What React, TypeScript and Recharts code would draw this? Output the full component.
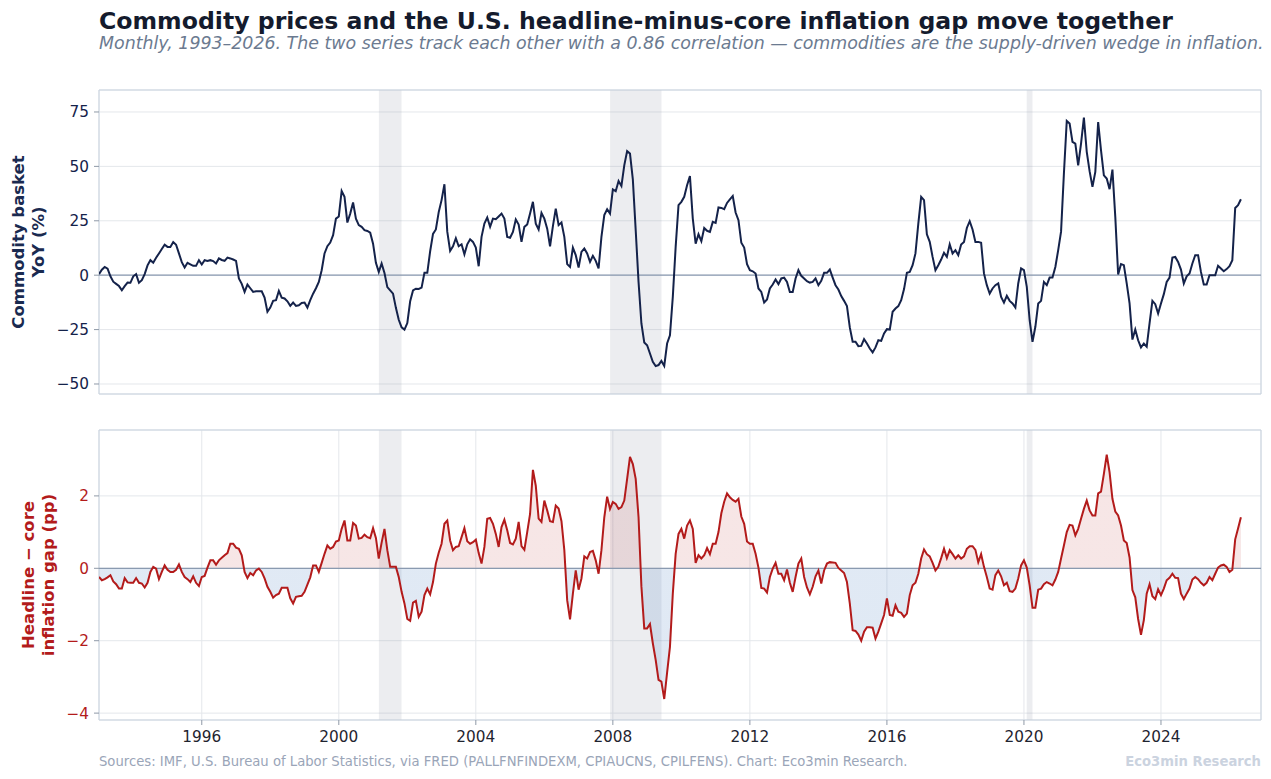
import {
  ComposedChart,
  Line,
  Area,
  XAxis,
  YAxis,
  CartesianGrid,
  ReferenceArea,
  ReferenceLine,
} from 'recharts'

// monthly series, first value = Jan 1993
const START_YEAR = 1993

// commodity basket, YoY % (one row per year)
const commodityYoY = [
  0.5, 2.5, 3.8, 3, -0.5, -3, -4, -5, -6.9, -5, -3.4, -3.5, // 1993
  -0.5, 0.5, -3.5, -2.3, 0.5, 4.5, 6.9, 5.7, 8, 10, 12, 14, // 1994
  13, 13, 15.2, 14, 10, 6, 3.5, 5.7, 5, 4.3, 4.3, 6.9, // 1995
  4.9, 6.9, 6.5, 6.9, 6.5, 5.4, 7.7, 7, 6.6, 8.1, 7.7, 7.2, // 1996
  6.6, -1.5, -4, -7.7, -4.3, -6, -7.7, -7.4, -7.4, -7.4, -10.3, -16.8, // 1997
  -14.9, -11.8, -11.5, -7.2, -10.3, -10.7, -12, -14.1, -12.6, -14.1, -13.8, -12.8, // 1998
  -12.6, -14.9, -11.5, -8.5, -6, -3.1, 2.3, 10, 13.3, 15, 18.4, 26, // 1999
  27, 38.7, 36, 24.2, 28.3, 33.4, 26, 23, 22.2, 20.7, 20.3, 19.5, // 2000
  14.5, 5.7, 1.5, 5.4, 1, -5.5, -7, -8.5, -15, -20.5, -24, -25, // 2001
  -22, -12, -7, -6.2, -6.3, -5.7, 1.1, 1.1, 11, 19, 21, 29, // 2002
  34.5, 41.8, 20, 11.2, 13.3, 17, 13.3, 14.2, 9.6, 14.2, 16.5, 15.3, // 2003
  12.7, 4.1, 17.6, 23.7, 26.5, 22.2, 26, 25.7, 27, 28.3, 26, 17.6, // 2004
  17.2, 19.9, 25.6, 23.3, 15.3, 22.2, 23.3, 28.3, 33.7, 23.7, 21, 28.6, // 2005
  26, 21.4, 13.3, 22.5, 30.6, 23, 24.2, 17.6, 5.1, 3.8, 12.6, 9.2, // 2006
  3.5, 10.7, 12.3, 10, 6.1, 8.9, 6.6, 3.1, 17.6, 27.6, 30.3, 28.3, // 2007
  39.4, 38.6, 43.3, 41, 50.5, 57, 55.9, 44, 20.7, -3.1, -22.2, -30.9, // 2008
  -32.2, -36, -39.8, -41.8, -41.3, -39.4, -41.7, -31.4, -27.6, -10, 13, 32.2, // 2009
  33.7, 36, 41.3, 45.5, 26, 14.5, 18.8, 15.6, 21.7, 20.4, 19.9, 24.5, // 2010
  24, 31.1, 30.9, 30.3, 33.2, 34.8, 36.4, 28.8, 25.3, 14.9, 12.7, 5.1, // 2011
  2.3, 1.8, 0.8, -6.1, -7.7, -12.6, -11.2, -6.1, -4.3, -2, -4.1, -1.5, // 2012
  -1.1, -3.1, -7.7, -7.7, -1.5, 2.3, -0.3, -1.5, -2.8, -3.4, -3.1, -1.5, // 2013
  -4.6, -2.6, 1.1, 1.1, 2.6, -1.1, -4.6, -6.6, -9.6, -11.8, -14.2, -24, // 2014
  -30.6, -30.6, -32.6, -32.5, -29.4, -31.4, -33.7, -35.5, -33.2, -29.9, -30.2, -26.8, // 2015
  -24.8, -25, -16.8, -15.3, -14.2, -11.5, -6.4, 1.1, 1.5, 4.6, 10, 23.7, // 2016
  36, 34.5, 18.8, 15.3, 8.4, 2.3, 4.6, 7.2, 10.3, 8.4, 14.2, 10, // 2017
  11.5, 9.2, 14.1, 15.3, 21.7, 24.8, 21, 15.3, 15.3, 14.9, 0.8, -4.6, // 2018
  -8.4, -6.1, -4.6, -3.8, -10, -12.6, -9.5, -11.8, -13, -14.9, -3.8, 3.1, // 2019
  2.3, -5.4, -20.7, -30.6, -23.7, -13, -11.8, -3.1, -4.6, -1.1, -1.1, 3.8, // 2020
  11.5, 20, 46.7, 70.9, 69.7, 61.3, 60.5, 50.5, 60.5, 72.4, 56.7, 47.8, // 2021
  40.6, 47.5, 70.4, 57.4, 45.9, 44.4, 39.5, 48.5, 26.8, 0.3, 5.1, 4.6, // 2022
  -3.8, -13, -29.6, -25, -29.9, -33.2, -31.4, -32.9, -22.2, -11.8, -13.3, -17.6, // 2023
  -13, -8.7, -3.1, -1.1, 8.1, 8.4, 6.1, 2.6, -3.8, -0.5, 0.8, 5.4, // 2024
  9.2, 9.2, 1.5, -4.3, -4.3, 0, 0, 0, 4.3, 3.1, 1.8, 2.8, // 2025
  4.1, 6.9, 30.9, 32.2, 34.9, // 2026
]

// headline minus core CPI inflation, percentage points
const inflationGap = [
  -0.24, -0.33, -0.3, -0.25, -0.19, -0.36, -0.44, -0.56, -0.56, -0.27, -0.39, -0.4, // 1993
  -0.4, -0.27, -0.4, -0.42, -0.53, -0.4, -0.1, 0.04, -0.01, -0.3, -0.1, 0.08, // 1994
  -0.04, -0.1, -0.1, -0.04, 0.11, -0.1, -0.24, -0.3, -0.38, -0.22, -0.4, -0.49, // 1995
  -0.24, -0.21, 0.02, 0.22, 0.22, 0.1, 0.22, 0.29, 0.36, 0.42, 0.68, 0.68, // 1996
  0.57, 0.54, 0.36, -0.1, -0.27, -0.13, -0.19, -0.06, -0.01, -0.1, -0.28, -0.51, // 1997
  -0.65, -0.81, -0.74, -0.7, -0.54, -0.54, -0.54, -0.83, -0.97, -0.79, -0.77, -0.76, // 1998
  -0.65, -0.45, -0.25, 0.08, 0.08, -0.1, 0.15, 0.4, 0.63, 0.54, 0.59, 0.74, // 1999
  0.77, 1.09, 1.32, 0.77, 0.77, 1.25, 1.18, 0.82, 0.84, 0.93, 0.86, 0.83, // 2000
  1.11, 0.84, 0.27, 0.71, 1.09, 0.5, 0.04, 0.04, 0.04, -0.24, -0.65, -0.97, // 2001
  -1.4, -1.45, -0.95, -0.9, -1.34, -1.2, -0.74, -0.56, -0.72, -0.38, 0.13, 0.43, // 2002
  0.68, 1.23, 1.32, 0.77, 0.5, 0.59, 0.61, 0.86, 1.11, 0.75, 0.68, 0.72, // 2003
  0.79, 0.42, 0.13, 0.59, 1.37, 1.39, 1.23, 0.95, 0.59, 1.14, 1.34, 1.05, // 2004
  0.7, 0.66, 0.82, 1.28, 0.61, 0.51, 1.0, 1.5, 2.72, 2.28, 1.37, 1.28, // 2005
  1.87, 1.6, 1.3, 1.28, 1.73, 1.65, 1.3, 0.5, -0.88, -1.41, -0.7, -0.06, // 2006
  -0.59, -0.28, 0.33, 0.27, 0.45, 0.48, 0.22, -0.15, 0.5, 1.41, 1.98, 1.64, // 2007
  1.83, 1.78, 1.64, 1.69, 1.87, 2.47, 3.08, 2.88, 2.47, 1.41, -0.5, -1.66, // 2008
  -1.66, -1.54, -2.07, -2.53, -3.08, -3.13, -3.61, -2.88, -2.17, -0.7, 0.4, 0.95, // 2009
  1.09, 0.82, 1.18, 1.32, 1.09, 0.15, 0.36, 0.27, 0.36, 0.56, 0.39, 0.68, // 2010
  0.68, 1.0, 1.52, 1.84, 2.07, 1.96, 1.89, 1.84, 1.92, 1.43, 1.23, 0.74, // 2011
  0.68, 0.68, 0.4, 0.02, -0.54, -0.56, -0.67, -0.24, -0.01, 0.15, -0.15, -0.15, // 2012
  -0.33, -0.03, -0.4, -0.65, -0.24, 0.13, 0.27, -0.24, -0.53, -0.72, -0.51, -0.22, // 2013
  -0.06, -0.42, -0.06, 0.13, 0.17, 0.16, 0.15, 0.01, -0.06, -0.13, -0.38, -0.97, // 2014
  -1.71, -1.73, -1.83, -2.0, -1.75, -1.63, -1.63, -1.64, -1.94, -1.75, -1.52, -1.29, // 2015
  -0.83, -1.29, -1.31, -1.02, -1.2, -1.23, -1.34, -1.25, -0.74, -0.47, -0.4, -0.15, // 2016
  0.27, 0.52, 0.39, 0.33, 0.15, -0.06, 0.04, 0.28, 0.54, 0.28, 0.5, 0.39, // 2017
  0.27, 0.36, 0.27, 0.33, 0.54, 0.61, 0.61, 0.51, 0.17, 0.39, 0.04, -0.24, // 2018
  -0.56, -0.59, -0.19, -0.06, -0.22, -0.47, -0.4, -0.63, -0.65, -0.56, -0.28, 0.08, // 2019
  0.22, 0.02, -0.47, -1.09, -1.09, -0.59, -0.56, -0.44, -0.38, -0.42, -0.47, -0.31, // 2020
  -0.1, 0.27, 0.63, 1.0, 1.2, 1.18, 0.91, 1.09, 1.37, 1.64, 1.87, 1.6, // 2021
  1.46, 1.46, 2.07, 2.12, 2.61, 3.14, 2.65, 1.92, 1.57, 1.46, 1.18, 0.77, // 2022
  0.7, 0.3, -0.6, -0.8, -1.4, -1.84, -1.43, -0.7, -0.44, -0.77, -0.85, -0.58, // 2023
  -0.74, -0.56, -0.33, -0.26, -0.15, -0.26, -0.27, -0.7, -0.85, -0.7, -0.56, -0.31, // 2024
  -0.24, -0.3, -0.4, -0.47, -0.4, -0.24, -0.33, -0.15, 0.02, 0.08, 0.1, 0.04, // 2025
  -0.1, -0.04, 0.8, 1.1, 1.41, // 2026
]

// NBER recessions, as decimal years
const recessions = [
  [2001.17, 2001.83],
  [2007.92, 2009.42],
  [2020.08, 2020.25],
]

const yearTicks = [1996, 2000, 2004, 2008, 2012, 2016, 2020, 2024]
const commodityTicks = [-50, -25, 0, 25, 50, 75]
const gapTicks = [-4, -2, 0, 2]

const X_DOMAIN = [1993, 2026.92]
const TOP_DOMAIN = [-54.6, 85.1]
const BOTTOM_DOMAIN = [-4.19, 3.82]

const NAVY = '#14224a'
const RED = '#b31b1b'
const GRID = '#e4e7eb'
const SPINE = '#c9d3df'
const FONT = '"DejaVu Sans", sans-serif'

const data = commodityYoY.map((c, i) => ({
  t: START_YEAR + i / 12,
  c,
  g: inflationGap[i],
}))

const minus = (v: number) => (v < 0 ? `\u2212${Math.abs(v)}` : `${v}`)

const gMax = Math.max(...inflationGap)
const gMin = Math.min(...inflationGap)
const splitOffset = gMax / (gMax - gMin)

function YLabel({ lines, color, x, y }: { lines: string[]; color: string; x: number; y: number }) {
  return (
    <div
      style={{
        position: 'absolute',
        left: x,
        top: y,
        transform: 'translate(-50%, -50%) rotate(-90deg)',
        whiteSpace: 'nowrap',
        textAlign: 'center',
        fontFamily: FONT,
        fontWeight: 'bold',
        fontSize: 16.5,
        lineHeight: '20px',
        color,
      }}
    >
      {lines.map((l) => (
        <div key={l}>{l}</div>
      ))}
    </div>
  )
}

export default function App() {
  return (
    <div
      style={{
        position: 'absolute',
        left: 0,
        top: 0,
        width: 1271,
        height: 779,
        background: '#fff',
        fontFamily: FONT,
        overflow: 'hidden',
      }}
    >
      <div style={{ position: 'absolute', left: 99, top: 9, fontSize: 23.6, lineHeight: '24px', fontWeight: 'bold', color: '#141b2d', whiteSpace: 'nowrap' }}>
        Commodity prices and the U.S. headline-minus-core inflation gap move together
      </div>
      <div style={{ position: 'absolute', left: 99, top: 33, fontSize: 17.4, lineHeight: '20px', fontStyle: 'italic', color: '#6b7a90', whiteSpace: 'nowrap' }}>
        Monthly, 1993–2026. The two series track each other with a 0.86 correlation — commodities are the supply-driven wedge in inflation.
      </div>

      <div style={{ position: 'absolute', left: 0, top: 0 }}>
        <ComposedChart width={1271} height={420} data={data} margin={{ top: 90, right: 10, left: 39, bottom: 16 }}>
          <CartesianGrid stroke={GRID} strokeWidth={1} />
          {recessions.map(([a, b]) => (
            <ReferenceArea key={a} x1={a} x2={b} fill="#8d97a8" fillOpacity={0.17} stroke="none" ifOverflow="hidden" />
          ))}
          <XAxis
            type="number"
            dataKey="t"
            domain={X_DOMAIN}
            ticks={yearTicks}
            allowDataOverflow
            height={10}
            axisLine={false}
            tickLine={{ stroke: '#8f99a7' }}
            tickSize={5}
            tick={false}
          />
          <YAxis
            type="number"
            domain={TOP_DOMAIN}
            ticks={commodityTicks}
            allowDataOverflow
            width={60}
            axisLine={false}
            tickLine={{ stroke: '#8f99a7' }}
            tickSize={5}
            tickMargin={5}
            tickFormatter={minus}
            tick={{ fill: NAVY, fontSize: 15.3, fontFamily: FONT }}
          />
          <ReferenceLine y={0} stroke="#8a9ab0" strokeWidth={1.2} />
          <Line type="linear" dataKey="c" stroke={NAVY} strokeWidth={2} dot={false} isAnimationActive={false} />
          <ReferenceArea x1={X_DOMAIN[0]} x2={X_DOMAIN[1]} y1={TOP_DOMAIN[0]} y2={TOP_DOMAIN[1]} fill="none" stroke={SPINE} strokeWidth={1} />
        </ComposedChart>
      </div>

      <div style={{ position: 'absolute', left: 0, top: 400 }}>
        <ComposedChart width={1271} height={370} data={data} margin={{ top: 30, right: 10, left: 39, bottom: 10 }}>
          <defs>
            <linearGradient id="gapFill" x1="0" y1="0" x2="0" y2="1">
              <stop offset={splitOffset} stopColor={RED} stopOpacity={0.11} />
              <stop offset={splitOffset} stopColor="#4a7fc1" stopOpacity={0.17} />
            </linearGradient>
          </defs>
          <CartesianGrid stroke={GRID} strokeWidth={1} />
          {recessions.map(([a, b]) => (
            <ReferenceArea key={a} x1={a} x2={b} fill="#8d97a8" fillOpacity={0.17} stroke="none" ifOverflow="hidden" />
          ))}
          <XAxis
            type="number"
            dataKey="t"
            domain={X_DOMAIN}
            ticks={yearTicks}
            allowDataOverflow
            height={40}
            axisLine={false}
            tickLine={{ stroke: '#8f99a7' }}
            tickSize={5}
            tickMargin={6}
            tick={{ fill: '#1f2430', fontSize: 15.3, fontFamily: FONT }}
          />
          <YAxis
            type="number"
            domain={BOTTOM_DOMAIN}
            ticks={gapTicks}
            allowDataOverflow
            width={60}
            axisLine={false}
            tickLine={{ stroke: '#8f99a7' }}
            tickSize={5}
            tickMargin={5}
            tickFormatter={minus}
            tick={{ fill: RED, fontSize: 15.3, fontFamily: FONT }}
          />
          <Area
            type="linear"
            dataKey="g"
            baseValue={0}
            stroke="none"
            fill="url(#gapFill)"
            fillOpacity={1}
            isAnimationActive={false}
          />
          <ReferenceLine y={0} stroke="#8a9ab0" strokeWidth={1.2} />
          <Line type="linear" dataKey="g" stroke={RED} strokeWidth={2} dot={false} isAnimationActive={false} />
          <ReferenceArea x1={X_DOMAIN[0]} x2={X_DOMAIN[1]} y1={BOTTOM_DOMAIN[0]} y2={BOTTOM_DOMAIN[1]} fill="none" stroke={SPINE} strokeWidth={1} />
        </ComposedChart>
      </div>

      <YLabel lines={['Commodity basket', 'YoY (%)']} color="#1a2a50" x={29} y={242} />
      <YLabel lines={['Headline \u2212 core', 'inflation gap (pp)']} color={RED} x={39} y={575} />

      <div style={{ position: 'absolute', left: 99, top: 754, fontSize: 13.2, color: '#9aa5b8', whiteSpace: 'nowrap' }}>
        Sources: IMF, U.S. Bureau of Labor Statistics, via FRED (PALLFNFINDEXM, CPIAUCNS, CPILFENS). Chart: Eco3min Research.
      </div>
      <div style={{ position: 'absolute', right: 10, top: 754, fontSize: 13.2, fontWeight: 'bold', color: '#cbd3df', whiteSpace: 'nowrap' }}>
        Eco3min Research
      </div>
    </div>
  )
}
